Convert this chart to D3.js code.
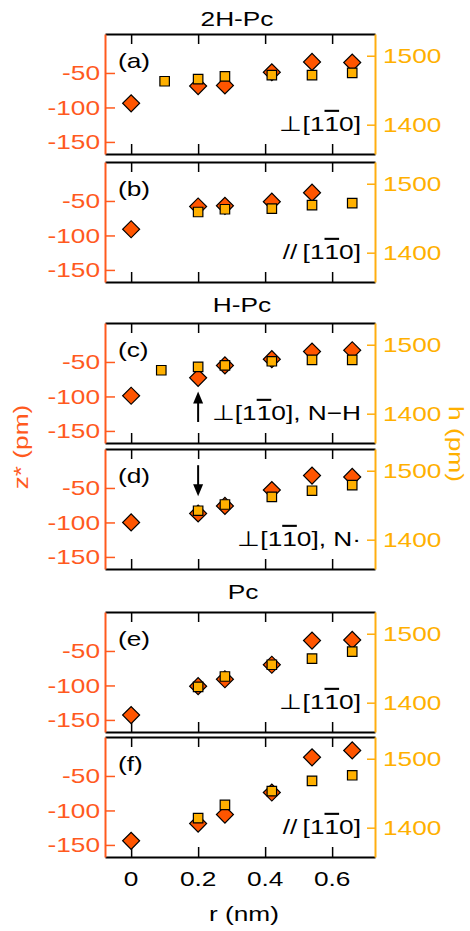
<!DOCTYPE html>
<html>
<head>
<meta charset="utf-8">
<script src="https://cdn.jsdelivr.net/npm/d3@7"></script>
<style>
body{margin:0;background:#fff}
text{font-family:"Liberation Sans",Arial,sans-serif}
</style>
</head>
<body>
<svg id="chart" width="470" height="931"></svg>
<script>
// r positions (nm) and values, one pair of arrays per panel
var zA_r = [0, 0.2, 0.28, 0.42, 0.54, 0.66];
var zA   = [-94, -69, -68, -49, -34, -35];
var hA_r = [0.1, 0.2, 0.28, 0.42, 0.54, 0.66];
var hA   = [1463, 1466, 1470, 1472, 1472, 1475];

var zB_r = [0, 0.2, 0.28, 0.42, 0.54];
var zB   = [-91, -58, -57, -51, -38];
var hB_r = [0.2, 0.28, 0.42, 0.54, 0.66];
var hB   = [1459, 1463, 1464, 1469, 1472];

var zC_r = [0, 0.2, 0.28, 0.42, 0.54, 0.66];
var zC   = [-99, -73, -55, -46, -35, -33];
var hC_r = [0.09, 0.2, 0.28, 0.42, 0.54, 0.66];
var hC   = [1463, 1468, 1470, 1476, 1478, 1478];

var zD_r = [0, 0.2, 0.28, 0.42, 0.54, 0.66];
var zD   = [-100, -87, -76, -53, -32, -34];
var hD_r = [0.2, 0.28, 0.42, 0.54, 0.66];
var hD   = [1442, 1451, 1462, 1471, 1479];

var zE_r = [0, 0.2, 0.28, 0.42, 0.54, 0.66];
var zE   = [-143, -101, -91, -70, -35, -34];
var hE_r = [0.2, 0.28, 0.42, 0.54, 0.66];
var hE   = [1423, 1438, 1455, 1464, 1474];

var zF_r = [0, 0.2, 0.28, 0.42, 0.54, 0.66];
var zF   = [-144, -119, -106, -74, -23, -13];
var hF_r = [0.2, 0.28, 0.42, 0.54, 0.66];
var hF   = [1414, 1433, 1453, 1468, 1476];

var panelLabels = ["(a)", "(b)", "(c)", "(d)", "(e)", "(f)"];
var notePrefix  = ["\u22A5[1", "//\u2009[1", "\u22A5[1", "\u22A5[1", "\u22A5[1", "//\u2009[1"];
var noteSuffix  = ["0]", "0]", "0], N\u2212H", "0], N\u00B7", "0]", "0]"];
var titles      = ["2H-Pc", "H-Pc", "Pc"];

var xTicks = [0, 0.2, 0.4, 0.6];
var zTicks = [-50, -100, -150];
var hTicks = [1400, 1500];
var zDomain = [-167.5, 6.5];
var hDomain = [1357.5, 1531.5];   // h = z* + 1525

// arrows in (c) and (d): r, tail z*, tip z*
var arrows = [{panel: 2, r: 0.2, from: -137, to: -93},
              {panel: 3, r: 0.2, from: -17, to: -62}];

var RED = "#FF5500", RED_AX = "#FF5A1E", AMB = "#FFB000", AMB_AX = "#FFAE10";
var FS = 21, SX = 1.25;   // font is wide: stretch text along its direction

var zs = [zA, zB, zC, zD, zE, zF], zrs = [zA_r, zB_r, zC_r, zD_r, zE_r, zF_r];
var hs = [hA, hB, hC, hD, hE, hF], hrs = [hA_r, hB_r, hC_r, hD_r, hE_r, hF_r];

var svg = d3.select("#chart");
var x = d3.scaleLinear().domain([-0.078, 0.728]).range([105, 375]);
var PH = 120;
var tops = [34, 162, 323, 449, 612, 737];

function addText(g, px, py, str, o){
	o = o || {};
	return g.append("text")
		.attr("transform", "translate(" + px + "," + py + ")" + (o.rot ? " rotate(" + o.rot + ")" : "") + " scale(" + SX + ",1)")
		.attr("text-anchor", o.anchor || "start")
		.attr("dy", o.dy || 0)
		.attr("fill", o.color || "#000")
		.style("font-size", (o.size || FS) + "px")
		.text(str);
}

var diamond = d3.symbol().type(d3.symbolSquare).size(144);
var square  = d3.symbol().type(d3.symbolSquare).size(90);

zs.forEach(function(zv, i){
	var top = tops[i];
	var yz = d3.scaleLinear().domain(zDomain).range([top + PH, top]);
	var yh = d3.scaleLinear().domain(hDomain).range([top + PH, top]);
	var last = i === zs.length - 1;

	// 坐标轴只画线和刻度，标签另外加
	var gt = svg.append("g").attr("transform", "translate(0," + top + ")")
		.call(d3.axisTop(x).tickValues(xTicks).tickSizeInner(-10).tickSizeOuter(0).tickFormat(""));
	var gb = svg.append("g").attr("transform", "translate(0," + (top + PH) + ")")
		.call(d3.axisBottom(x).tickValues(xTicks).tickSizeInner(-10).tickSizeOuter(0).tickFormat(""));
	var gl = svg.append("g").attr("transform", "translate(105,0)")
		.call(d3.axisLeft(yz).tickValues(zTicks).tickSizeInner(-10).tickSizeOuter(0).tickFormat(""));
	var gr = svg.append("g").attr("transform", "translate(375,0)")
		.call(d3.axisRight(yh).tickValues(hTicks).tickSizeInner(-8).tickSizeOuter(0).tickFormat(""));
	[[gt, "#000"], [gb, "#000"], [gl, RED_AX], [gr, AMB_AX]].forEach(function(p){
		p[0].select(".domain").attr("stroke", p[1]).attr("stroke-width", 2);
		p[0].selectAll(".tick line").attr("stroke", p[1]).attr("stroke-width", 1.5);
		p[0].selectAll(".tick text").remove();
	});

	zTicks.forEach(function(t){
		addText(svg, 100, yz(t), String(t), {anchor: "end", dy: "0.35em", color: RED_AX});
	});
	hTicks.forEach(function(t){
		addText(svg, 383, yh(t), String(t), {dy: "0.35em", color: AMB});
	});
	if(last){
		xTicks.forEach(function(t){
			addText(svg, x(t), top + PH + 29, String(t), {anchor: "middle"});
		});
	}

	// panel letter and direction note
	addText(svg, 118, top + 34, panelLabels[i]);
	var note = addText(svg, 361, top + 97, "", {anchor: "end"});
	note.append("tspan").text(notePrefix[i]);
	note.append("tspan").style("text-decoration", "overline").text("1");
	note.append("tspan").text(noteSuffix[i]);

	// markers: diamonds (z*) under squares (h)
	svg.append("g").selectAll("path")
		.data(zv.map(function(v, k){ return [zrs[i][k], v]; }))
		.join("path")
		.attr("d", diamond)
		.attr("transform", function(d){ return "translate(" + x(d[0]) + "," + yz(d[1]) + ") rotate(45)"; })
		.attr("fill", RED).attr("stroke", "#000").attr("stroke-width", 1.2);
	svg.append("g").selectAll("path")
		.data(hs[i].map(function(v, k){ return [hrs[i][k], v]; }))
		.join("path")
		.attr("d", square)
		.attr("transform", function(d){ return "translate(" + x(d[0]) + "," + yh(d[1]) + ")"; })
		.attr("fill", AMB).attr("stroke", "#000").attr("stroke-width", 1.2);

	arrows.filter(function(a){ return a.panel === i; }).forEach(function(a){
		var ax = x(a.r), y0 = yz(a.from), y1 = yz(a.to);
		var dir = y1 < y0 ? 1 : -1;
		svg.append("line").attr("x1", ax).attr("x2", ax).attr("y1", y0).attr("y2", y1 + dir * 10)
			.attr("stroke", "#000").attr("stroke-width", 2);
		svg.append("path")
			.attr("d", "M" + ax + "," + y1 + "L" + (ax - 5) + "," + (y1 + dir * 12) + "L" + (ax + 5) + "," + (y1 + dir * 12) + "Z")
			.attr("fill", "#000");
	});
});

// group titles
[[237, 26], [242, 312], [243, 599]].forEach(function(p, k){
	addText(svg, p[0], p[1], titles[k], {anchor: "middle"});
});

// axis titles
addText(svg, 244, 921, "r (nm)", {anchor: "middle"});
addText(svg, 28, 447, "z* (pm)", {anchor: "middle", rot: -90, color: RED_AX});
addText(svg, 449, 444, "h (pm)", {anchor: "middle", rot: 90, color: AMB});
</script>
</body>
</html>
